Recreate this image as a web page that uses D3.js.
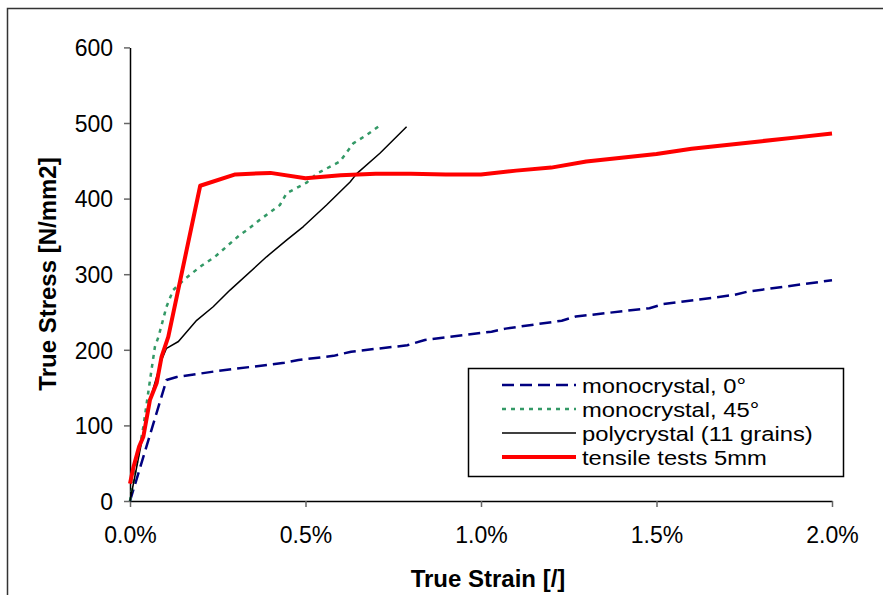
<!DOCTYPE html>
<html>
<head>
<meta charset="utf-8">
<script src="https://cdn.jsdelivr.net/npm/d3@7"></script>
<style>
  body { margin: 0; background: #fff; }
  svg { display: block; font-family: "Liberation Sans", Arial, sans-serif; }
</style>
</head>
<body>
<div id="chart"></div>
<script>
// strain values are fractions (0.01 = 1%), stress in N/mm2
var mono0 = [
  [0, 0], [0.00104, 160], [0.00133, 164], [0.0025, 172], [0.0039, 180], [0.0044, 183],
  [0.0048, 186.5], [0.0058, 192], [0.0063, 197.5], [0.0079, 206], [0.0084, 213],
  [0.0103, 224], [0.0107, 228], [0.0123, 238.5], [0.0127, 244], [0.0148, 255],
  [0.0152, 260.5], [0.0172, 272.5], [0.0176, 277], [0.0200, 292]
];
var mono45 = [
  [0, 0], [0.00038, 98], [0.00057, 160], [0.00071, 204], [0.00081, 217], [0.00104, 257],
  [0.00123, 279], [0.00152, 292], [0.0020, 310], [0.00242, 323], [0.00313, 352],
  [0.00332, 358], [0.0037, 372], [0.00427, 391.5], [0.00446, 407], [0.00503, 421],
  [0.00532, 433], [0.00598, 449], [0.00636, 473], [0.00674, 484], [0.00707, 495]
];
var poly = [
  [0, 0], [0.00057, 134], [0.0009, 186.5], [0.00104, 202], [0.00138, 211], [0.0019, 239],
  [0.00237, 257], [0.00285, 279], [0.00389, 323], [0.00446, 345], [0.00494, 363],
  [0.0056, 391.5], [0.00627, 422], [0.00646, 433], [0.00712, 460], [0.00788, 495]
];
var tensile = [
  [0, 23], [0.0001, 45], [0.00026, 72], [0.00038, 85], [0.00057, 134], [0.00076, 156],
  [0.0009, 191], [0.00109, 217], [0.002, 417], [0.003, 432], [0.004, 434], [0.005, 427],
  [0.006, 431], [0.007, 433], [0.008, 433], [0.009, 432], [0.010, 432], [0.011, 437],
  [0.012, 441], [0.013, 449], [0.014, 454], [0.015, 459], [0.016, 466], [0.017, 471],
  [0.018, 476], [0.019, 481], [0.020, 486]
];
var seriesNames = ["monocrystal, 0\u00b0", "monocrystal, 45\u00b0", "polycrystal (11 grains)", "tensile tests 5mm"];
var xTicks = [0, 0.005, 0.01, 0.015, 0.02];
var yTicks = [0, 100, 200, 300, 400, 500, 600];

var W = 883, H = 595;
var svg = d3.select("#chart").append("svg").attr("width", W).attr("height", H);

// outer chart frame (only left and top edges fall inside the picture)
svg.append("rect")
  .attr("x", 7.5).attr("y", 8.5).attr("width", 900).attr("height", 700)
  .style("fill", "none").style("stroke", "#333").style("stroke-width", 1.5);

var x = d3.scaleLinear().domain([0, 0.02]).range([130, 832]);
var y = d3.scaleLinear().domain([0, 600]).range([501, 47.4]);

// axes
var xAxis = svg.append("g").attr("transform", "translate(0," + y(0) + ")")
  .call(d3.axisBottom(x).tickValues(xTicks).tickFormat(d3.format(".1%")).tickSize(6).tickSizeOuter(0));
var yAxis = svg.append("g").attr("transform", "translate(" + x(0) + ",0)")
  .call(d3.axisLeft(y).tickValues(yTicks).tickSize(6).tickSizeOuter(0));

[xAxis, yAxis].forEach(function(a){
  a.select(".domain").style("stroke", "#000").style("stroke-width", 1.5);
  a.selectAll(".tick line").style("stroke", "#666").style("stroke-width", 1.5);
  a.selectAll(".tick text").style("font-size", "23px").style("fill", "#000")
    .style("font-family", "'Liberation Sans', Arial, sans-serif");
});
xAxis.selectAll(".tick text").attr("dy", null).attr("y", 42);
yAxis.selectAll(".tick text").attr("x", -17).attr("dy", "0.36em");

// axis titles
svg.append("text").attr("x", 488).attr("y", 587)
  .attr("text-anchor", "middle").style("font-size", "24px").style("font-weight", "bold")
  .text("True Strain [/]");
svg.append("text").attr("transform", "translate(56,274) rotate(-90)")
  .attr("text-anchor", "middle").style("font-size", "24px").style("font-weight", "bold")
  .text("True Stress [N/mm2]");

var line = d3.line().x(function(d){ return x(d[0]); }).y(function(d){ return y(d[1]); });

var styles = [
  { data: mono0, color: "#000080", width: 2.5, dash: "12,6" },
  { data: mono45, color: "#339966", width: 2.5, dash: "4,5" },
  { data: poly, color: "#000000", width: 1.5, dash: null },
  { data: tensile, color: "#ff0000", width: 4, dash: null }
];

styles.forEach(function(s){
  svg.append("path").datum(s.data).attr("d", line)
    .style("fill", "none").style("stroke", s.color)
    .style("stroke-width", s.width)
    .style("stroke-dasharray", s.dash)
    .style("stroke-linejoin", "round");
});

// legend - text is a bit wide in the original, so stretch it horizontally
var leg = svg.append("g");
leg.append("rect").attr("x", 468.5).attr("y", 368.5).attr("width", 375).attr("height", 108)
  .style("fill", "#fff").style("stroke", "#000").style("stroke-width", 1.5);
styles.forEach(function(s, i){
  var ly = 385 + i * 24;
  leg.append("line").attr("x1", 502).attr("x2", 576).attr("y1", ly).attr("y2", ly)
    .style("stroke", s.color).style("stroke-width", s.width).style("stroke-dasharray", s.dash);
  leg.append("text").attr("transform", "translate(582," + (ly + 7.5) + ") scale(1.16,1)")
    .style("font-size", "20.5px")
    .text(seriesNames[i]);
});
</script>
</body>
</html>
